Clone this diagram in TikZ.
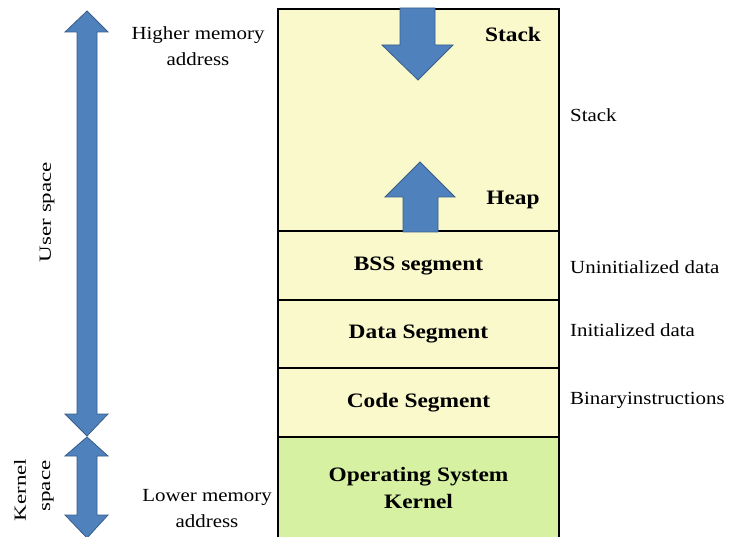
\documentclass[tikz,border=0pt]{standalone}
\usepackage{fontspec}
\setmainfont{Liberation Serif}
\newfontfamily\lblfont[FakeStretch=1.13]{Liberation Serif}
\newfontfamily\boldlbl[FakeStretch=1.14]{Liberation Serif}
\newfontfamily\rotlbl[FakeStretch=1.35]{Liberation Serif}
\definecolor{segyellow}{RGB}{250,249,204}
\definecolor{kerngreen}{RGB}{215,241,163}
\definecolor{arrowblue}{RGB}{79,129,189}
\definecolor{arrowedge}{RGB}{56,93,138}
\begin{document}
\begin{tikzpicture}[x=1pt,y=-1pt,
  seg/.style={draw=black,line width=2.6pt,fill=segyellow,minimum width=281pt,inner sep=0pt,outer sep=0pt,font=\boldlbl\fontsize{20.5}{24}\selectfont\bfseries,align=center},
  bl/.style={font=\boldlbl\fontsize{20.5}{27}\selectfont\bfseries,align=center,inner sep=0pt},
  side/.style={font=\lblfont\fontsize{18.5}{22}\selectfont,anchor=west,inner sep=0pt},
  addr/.style={font=\lblfont\fontsize{18.5}{26}\selectfont,align=center,inner sep=0pt},
  rot/.style={font=\rotlbl\fontsize{17}{20}\selectfont,rotate=90,inner sep=0pt},
  blu/.style={fill=arrowblue,draw=arrowedge,line width=0.8pt,line join=miter}]
\useasboundingbox (0,0) rectangle (734,537);
\fill[white] (0,0) rectangle (734,537);
% segments
\node[seg,minimum height=222pt,anchor=north] (stackheap) at (418.5,9) {};
\node[seg,minimum height=69pt,anchor=north] (bss) at (418.5,231) {BSS segment};
\node[seg,minimum height=68pt,anchor=north] (data) at (418.5,300) {Data Segment};
\node[seg,minimum height=69pt,anchor=north] (code) at (418.5,368) {Code Segment};
\node[seg,fill=kerngreen,minimum height=106pt,anchor=north] (os) at (418.5,437) {};
\node[bl] (ostext) at (418.5,488) {Operating System\\Kernel};
% growth arrows
\draw[blu] (400,8) -- (435,8) -- (435,45) -- (453,45) -- (418,80) -- (382,45) -- (400,45) -- cycle;
\draw[blu] (403,232) -- (403,197) -- (385,197) -- (420,162) -- (455,197) -- (438,197) -- (438,232) -- cycle;
\node[bl] (stacklbl) at (513,34) {Stack};
\node[bl] (heaplbl) at (513,200) {Heap};
% right labels
\node[side] (r1) at (570,115) {Stack};
\node[side] (r2) at (570,267) {Uninitialized data};
\node[side] (r3) at (570,330) {Initialized data};
\node[side] (r4) at (570,400) {Binaryinstructions};
% address labels
\node[addr] (high) at (198,46) {Higher memory\\address};
\node[addr] (low) at (207,509) {Lower memory\\address};
% left arrows
\draw[blu] (87,11) -- (108,32) -- (97,32) -- (97,414) -- (108,414) -- (87,436) -- (65,414) -- (77,414) -- (77,32) -- (65,32) -- cycle;
\draw[blu] (87,437) -- (108,456) -- (97,456) -- (97,515) -- (108,515) -- (87,538) -- (65,515) -- (77,515) -- (77,456) -- (65,456) -- cycle;
\node[rot] (user) at (47,212) {User space};
\node[rot] (kern) at (20,490) {Kernel};
\node[rot] (kspace) at (48,486) {space};
\end{tikzpicture}
\end{document}
